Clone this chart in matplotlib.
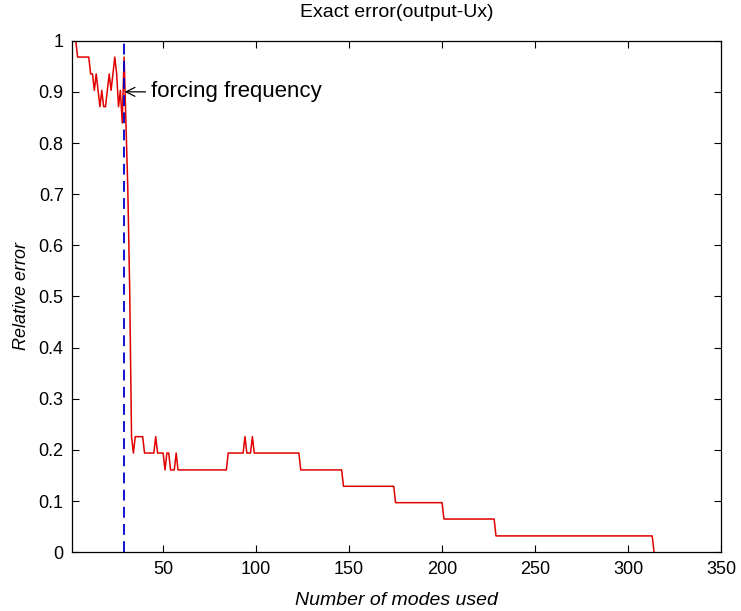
import matplotlib
matplotlib.use("Agg")
import matplotlib.pyplot as plt

# change points of the error curve (mode number, relative error)
modes = [1, 2, 3, 4, 10, 11, 12, 13, 14, 15, 16, 17, 18, 19, 20, 21, 22, 23, 24,
         25, 26, 27, 28, 29, 30, 31, 32, 33, 34, 35, 39, 40, 45, 46, 47, 50, 51,
         52, 53, 54, 56, 57, 58, 84, 85, 93, 94, 95, 97, 98, 99, 123, 124, 146,
         147, 174, 175, 200, 201, 228, 229, 313, 314]
rel_error = [1.0, 1.0, 1.0, 0.968, 0.968, 0.935, 0.935, 0.903, 0.935, 0.903,
             0.871, 0.903, 0.871, 0.871, 0.903, 0.935, 0.903, 0.935, 0.968,
             0.935, 0.871, 0.903, 0.839, 0.968, 0.839, 0.710, 0.516, 0.226,
             0.194, 0.226, 0.226, 0.194, 0.194, 0.226, 0.194, 0.194, 0.161,
             0.194, 0.194, 0.161, 0.161, 0.194, 0.161, 0.161, 0.194, 0.194,
             0.226, 0.194, 0.194, 0.226, 0.194, 0.194, 0.161, 0.161, 0.129,
             0.129, 0.097, 0.097, 0.065, 0.065, 0.032, 0.032, 0.0]

forcing_mode = 29
xticks = [50, 100, 150, 200, 250, 300, 350]
yticks = [0, 0.1, 0.2, 0.3, 0.4, 0.5, 0.6, 0.7, 0.8, 0.9, 1]
ytick_labels = ["0", "0.1", "0.2", "0.3", "0.4", "0.5", "0.6", "0.7", "0.8", "0.9", "1"]

plt.rcParams['font.family'] = ['Liberation Sans', 'DejaVu Sans']

fig = plt.figure(figsize=(7.41, 6.11), dpi=100)
ax = fig.add_axes([0.0972, 0.0961, 0.8758, 0.8373])

ax.plot(modes, rel_error, color='#e00000', lw=1.1)
ax.plot([forcing_mode, forcing_mode], [0, 1], color='#0000cc', lw=1.3,
        linestyle=(0, (6, 3.5)))

ax.annotate("forcing frequency", xy=(forcing_mode + 0.3, 0.9),
            xytext=(forcing_mode + 14.5, 0.9), va='center', ha='left',
            fontsize=16,
            arrowprops=dict(arrowstyle='->', color='black', lw=0.9,
                            shrinkA=2, shrinkB=0))

ax.set_xlim(1, 350)
ax.set_ylim(0, 1)
ax.set_xticks(xticks)
ax.set_xticklabels([str(t) for t in xticks])
ax.set_yticks(yticks)
ax.set_yticklabels(ytick_labels)
ax.tick_params(direction='in', top=True, right=True, length=5, width=0.8,
               labelsize=13, pad=6)
for s in ax.spines.values():
    s.set_linewidth(0.9)

ax.set_title("Exact error(output-Ux)", fontsize=14, pad=17)
ax.set_xlabel("Number of modes used", fontsize=14, style='italic', labelpad=10)
ax.set_ylabel("Relative error", fontsize=13, style='italic', labelpad=6)

fig.savefig("out.png", dpi=100)
